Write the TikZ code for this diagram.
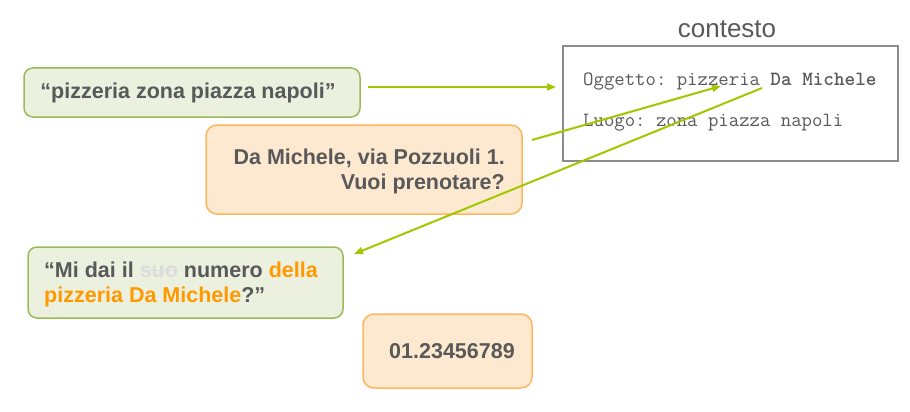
\documentclass[tikz,border=0pt]{standalone}
\usepackage{fontspec}
\setmainfont{Liberation Sans}
\usetikzlibrary{arrows.meta}
\definecolor{txtgray}{RGB}{89,89,89}
\definecolor{gfill}{RGB}{235,241,222}
\definecolor{gdraw}{RGB}{155,187,89}
\definecolor{ofill}{RGB}{253,233,208}
\definecolor{odraw}{RGB}{255,183,94}
\definecolor{arr}{RGB}{160,200,0}
\definecolor{orangetxt}{RGB}{255,153,0}
\definecolor{sgray}{RGB}{220,220,220}
\definecolor{boxgray}{RGB}{140,140,140}
\newcommand\strikegray[1]{\textcolor{sgray}{\setbox0\hbox{#1}\rlap{\rule[0.3em]{\wd0}{0.07em}}\box0}}
\tikzset{
  gbox/.style={draw=gdraw, fill=gfill, line width=1.5pt, rounded corners=9pt},
  obox/.style={draw=odraw, fill=ofill, line width=1.5pt, rounded corners=11pt},
  btxt/.style={font=\fontsize{21.5}{24.5}\selectfont\bfseries, text=txtgray, inner sep=0pt},
  mtxt/.style={font=\fontsize{20.2}{22}\selectfont\ttfamily\frenchspacing, text=txtgray, inner sep=0pt, anchor=base west},
  conn/.style={draw=arr, line width=2pt, -{Triangle[length=9pt,width=7pt]}},
}
\begin{document}
\begin{tikzpicture}[x=1pt,y=-1pt]
\useasboundingbox (0,0) rectangle (910,412);
% boxes
\draw[gbox] (24,68) rectangle (360,117);
\node[btxt] (q1) at (188,93) {“pizzeria zona piazza napoli”};
\draw[obox] (206,125) rectangle (522,214);
\node[btxt, align=right, anchor=base east] (r1) at (505,189) {Da Michele, via Pozzuoli 1.\\Vuoi prenotare?};
\draw[gbox] (28,247) rectangle (343,318);
\node[btxt, align=left, anchor=base west] (q2) at (44,302) {“Mi dai il \strikegray{suo} numero \textcolor{orangetxt}{della}\\\textcolor{orangetxt}{pizzeria Da Michele}?”};
\draw[obox] (363,314) rectangle (532,388);
\node[btxt] (r2) at (452,351) {01.23456789};
% context
\node[font=\fontsize{26}{30}\selectfont, text=txtgray, inner sep=0pt] (ct) at (727,29) {contesto};
\draw[boxgray, line width=1.2pt] (563,46) rectangle (898,161);
\node[mtxt] (o1) at (583,85) {Oggetto: pizzeria \textbf{Da Michele}};
\node[mtxt] (o2) at (583,126) {Luogo: zona piazza napoli};
% arrows
\coordinate (a1s) at (368,87); \coordinate (a1e) at (556,87);
\coordinate (a2s) at (532,140); \coordinate (a2e) at (721,86);
\coordinate (a3s) at (762,88); \coordinate (a3e) at (354,254);
\draw[conn] (a1s) -- (a1e);
\draw[conn] (a2s) -- (a2e);
\draw[conn] (a3s) -- (a3e);
\end{tikzpicture}
\end{document}
